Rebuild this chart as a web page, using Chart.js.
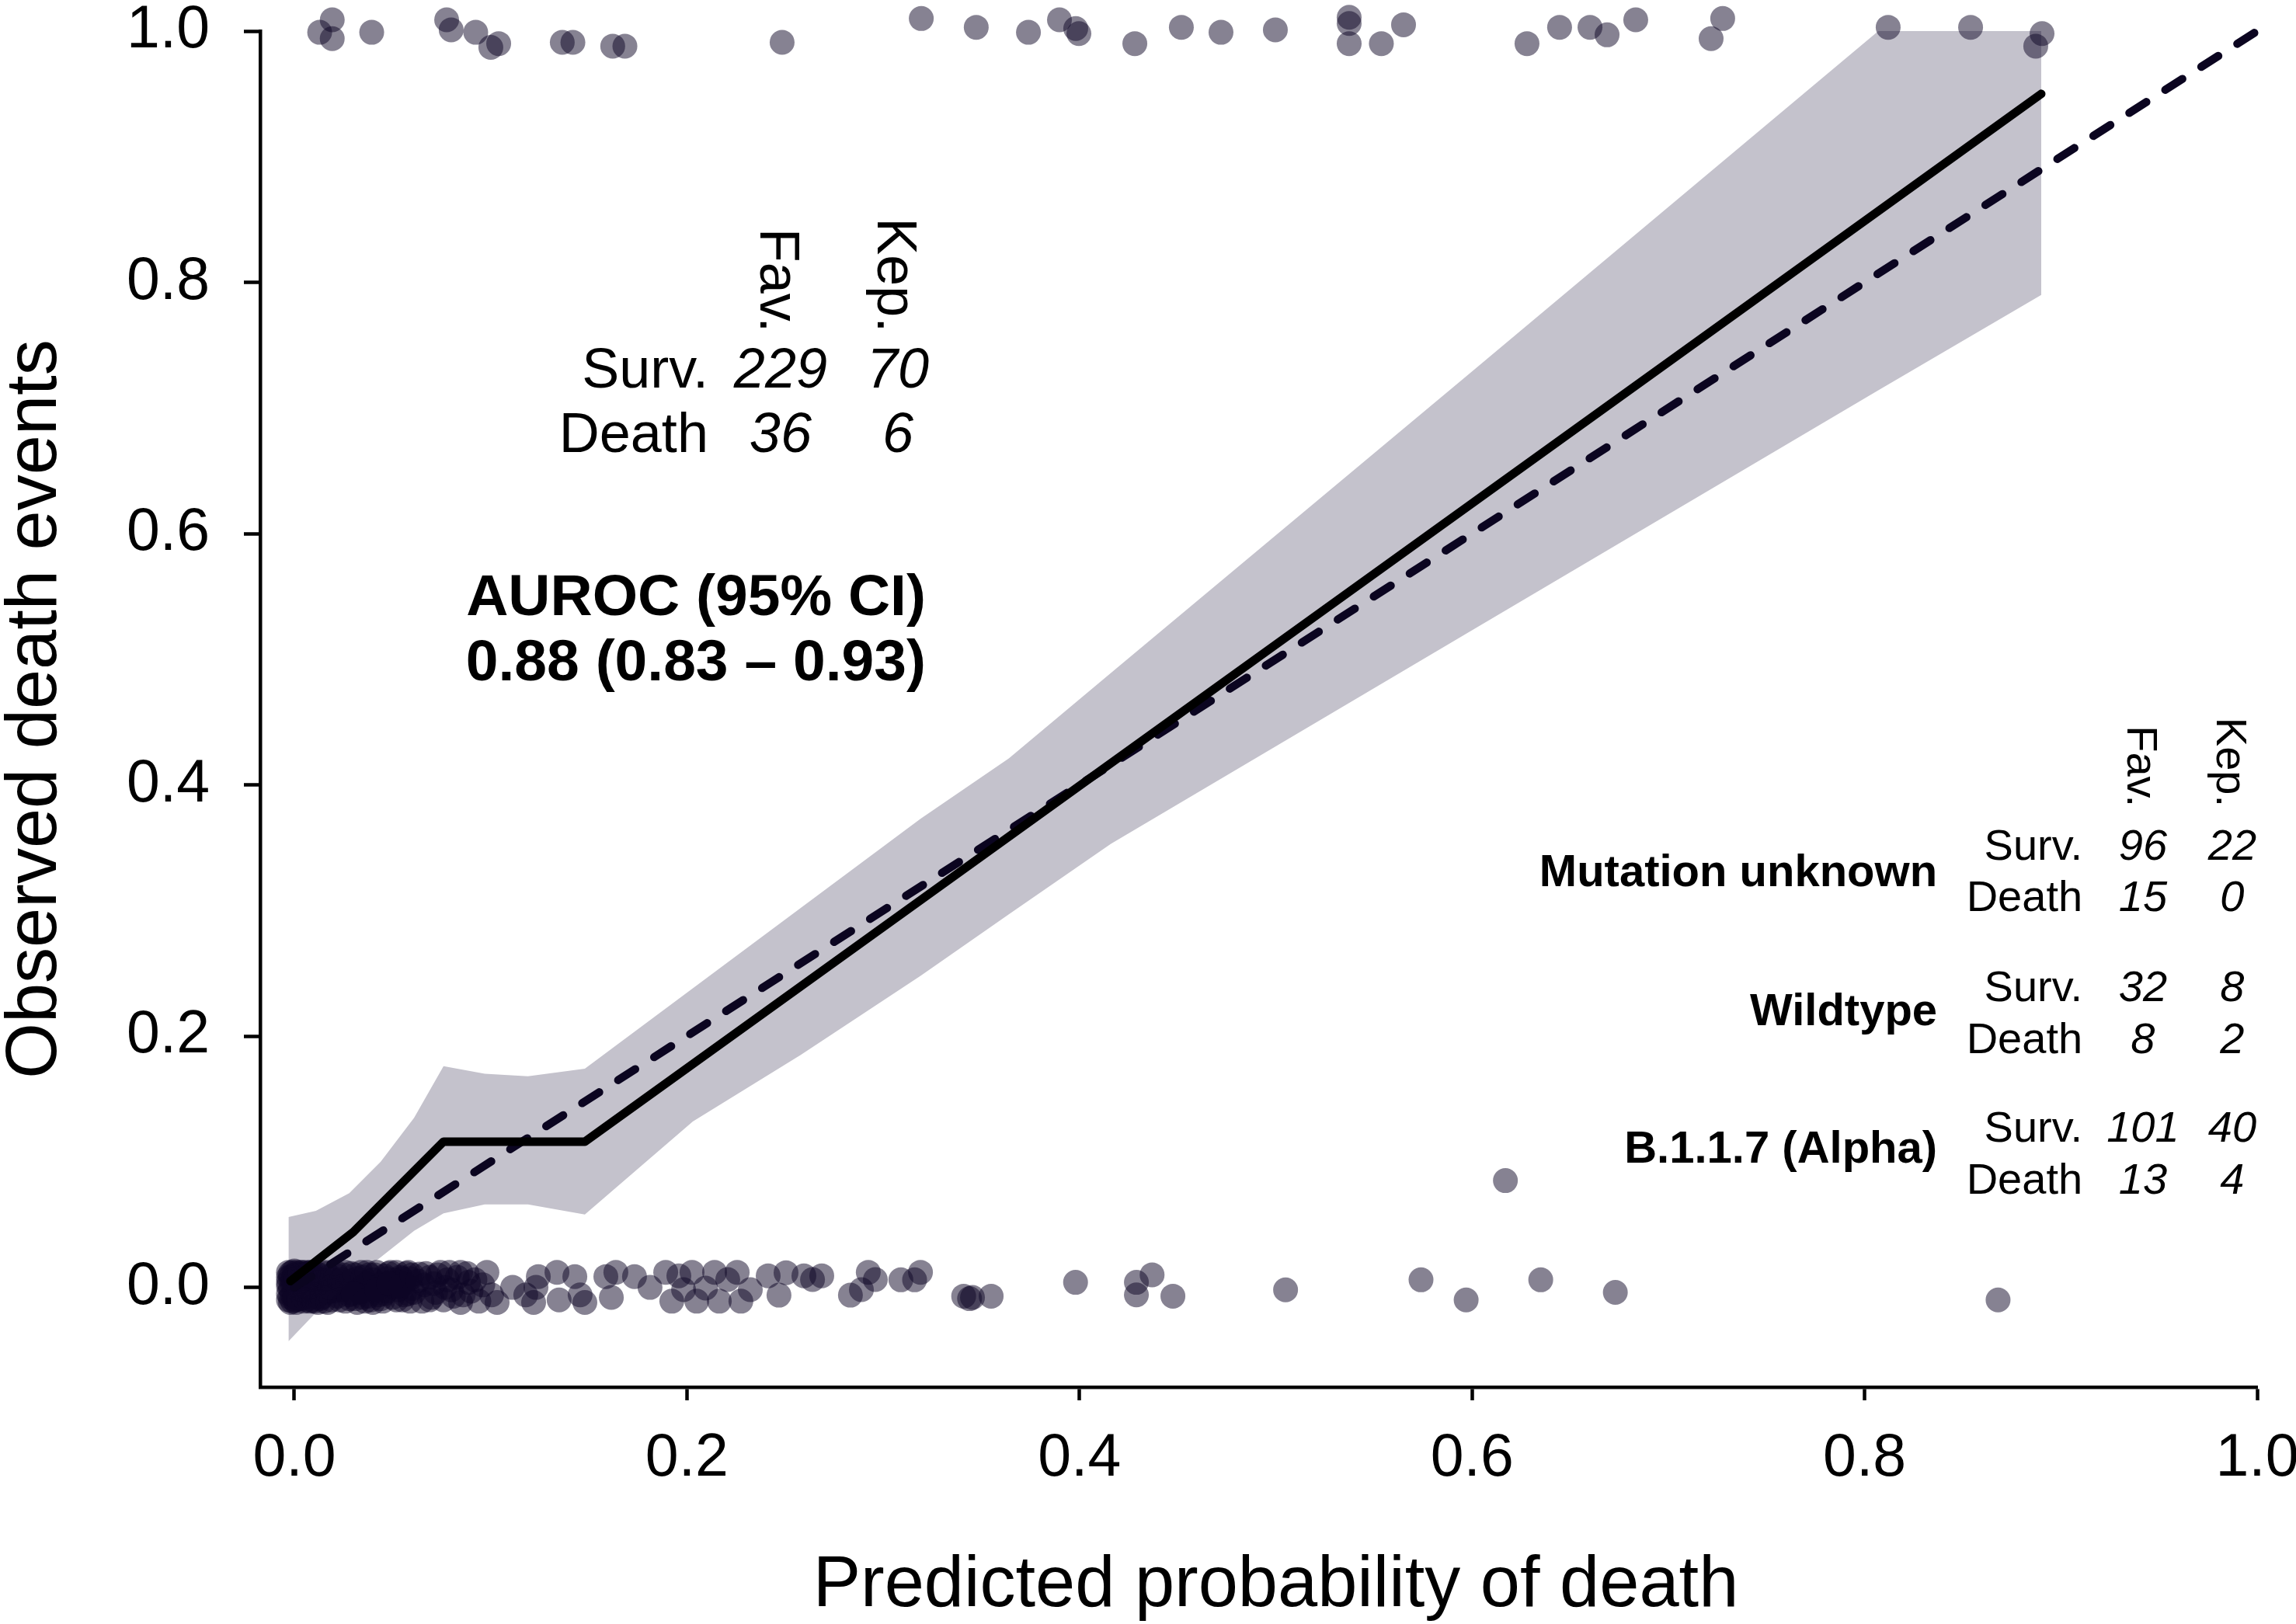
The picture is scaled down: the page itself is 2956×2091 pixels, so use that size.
<!DOCTYPE html>
<html>
<head>
<meta charset="utf-8">
<title>Calibration plot</title>
<script src="https://cdn.jsdelivr.net/npm/chart.js@4.4.1/dist/chart.umd.min.js"></script>
<style>
  html, body { margin: 0; padding: 0; background: #fff; }
  #wrap { width: 2956px; height: 2091px; position: relative; }
</style>
</head>
<body>
<div id="wrap"><canvas id="calibrationChart"></canvas></div>
<script>
const FONT = '"Liberation Sans", Arial, Helvetica, sans-serif';

const xTicks = [0, 0.2, 0.4, 0.6, 0.8, 1.0];
const yTicks = [0, 0.2, 0.4, 0.6, 0.8, 1.0];

// observed deaths (jittered around 1)
const deathX = [
  0.0129, 0.0193, 0.0193, 0.0394, 0.0776, 0.0799, 0.0924, 0.1041, 0.1001, 0.1365,
  0.1419, 0.1622, 0.1684, 0.2485, 0.3194, 0.3474, 0.3740, 0.3898, 0.3981, 0.3997,
  0.4282, 0.4519, 0.4721, 0.4998, 0.5374, 0.5374, 0.5374, 0.5538, 0.5651, 0.6280,
  0.6446, 0.6601, 0.6688, 0.6834, 0.7218, 0.7277, 0.8120, 0.8540, 0.8904, 0.8872,
];
const deathY = [
  0.999, 1.009, 0.994, 0.999, 1.009, 1.001, 0.999, 0.990, 0.987, 0.991,
  0.991, 0.988, 0.988, 0.991, 1.010, 1.003, 0.999, 1.009, 1.002, 0.998,
  0.990, 1.003, 0.999, 1.001, 1.011, 1.006, 0.990, 0.990, 1.005, 0.990,
  1.003, 1.003, 0.997, 1.009, 0.994, 1.010, 1.003, 1.003, 0.998, 0.988,
];

// observed survivors (jittered around 0)
const survX = [
  // dense block near zero
  -0.003, -0.003, -0.003, -0.003, -0.002, -0.002, -0.002, -0.001, -0.001, -0.001,
  0.000, 0.000, 0.000, 0.000, 0.001, 0.001, 0.001, 0.002, 0.002, 0.002,
  0.003, 0.003, 0.003, 0.004, 0.004, 0.004, 0.005, 0.005, 0.005, 0.006,
  0.006, 0.007, 0.007, 0.008, 0.008, 0.009, 0.009, 0.010, 0.010, 0.011,
  0.011, 0.012, 0.013, 0.013, 0.014, 0.015, 0.015, 0.016,
  -0.003, -0.002, -0.001, 0.000, 0.001, 0.002, 0.003, 0.004, 0.005, 0.006,
  0.007, 0.008, 0.009, 0.010, 0.011, 0.012, -0.003, -0.002, -0.001, 0.000,
  0.001, 0.002, 0.003, 0.004, 0.005, 0.006, 0.007, 0.008, 0.009, 0.010,
  // 0.013 - 0.060
  0.017, 0.018, 0.019, 0.020, 0.021, 0.022, 0.023, 0.024, 0.025, 0.026,
  0.027, 0.028, 0.029, 0.030, 0.031, 0.032, 0.033, 0.034, 0.035, 0.036,
  0.037, 0.038, 0.039, 0.040, 0.041, 0.042, 0.043, 0.044, 0.045, 0.046,
  0.047, 0.048, 0.049, 0.050, 0.051, 0.052, 0.053, 0.054, 0.055, 0.056,
  0.057, 0.058, 0.059, 0.060,
  0.013, 0.014, 0.016, 0.017, 0.019, 0.020, 0.022, 0.023, 0.025, 0.026,
  0.028, 0.029, 0.031, 0.032, 0.034, 0.035, 0.037, 0.038, 0.040, 0.041,
  0.043, 0.044, 0.046, 0.047, 0.049, 0.050, 0.052, 0.053, 0.055, 0.056,
  0.058, 0.059, 0.018, 0.024, 0.030, 0.036, 0.042, 0.048, 0.054, 0.060,
  // 0.06 - 0.095
  0.0637, 0.0689, 0.0744, 0.0768, 0.0847, 0.0887, 0.0847, 0.066, 0.069, 0.072,
  0.078, 0.081, 0.090,
  0.061, 0.063, 0.065, 0.067, 0.070, 0.071, 0.073, 0.076, 0.079, 0.080,
  0.083, 0.086, 0.088, 0.092, 0.094, 0.096,
  // 0.095 - 0.19
  0.0981, 0.1005, 0.1033, 0.1112, 0.1179, 0.1231, 0.1243, 0.1219, 0.1338, 0.1349,
  0.1429, 0.1456, 0.1480, 0.1587, 0.1615, 0.1638, 0.1733, 0.1812, 0.1892,
  // 0.19 - 0.30
  0.1923, 0.1959, 0.1983, 0.2026, 0.2050, 0.2095, 0.2141, 0.2165, 0.2208, 0.2256,
  0.2275, 0.2323, 0.2414, 0.2469, 0.2505, 0.2596, 0.2640, 0.2687, 0.2833, 0.2889,
  0.2924, 0.2960,
  // sparse tail
  0.309, 0.316, 0.319, 0.341, 0.344, 0.3455, 0.355, 0.398, 0.429, 0.429,
  0.437, 0.4476, 0.505, 0.574, 0.597, 0.635, 0.673, 0.868, 0.617,
];
const survY = [
  0.012, 0.004, -0.005, -0.010, 0.008, -0.001, -0.008, 0.012, 0.002, -0.011,
  0.010, 0.005, -0.002, -0.007, 0.012, 0.000, -0.010, 0.007, -0.004, 0.011,
  -0.009, 0.003, -0.001, 0.009, -0.006, 0.012, 0.001, -0.011, 0.006, -0.003,
  0.010, -0.008, 0.004, 0.012, -0.005, 0.000, -0.010, 0.008, -0.002, 0.011,
  -0.007, 0.003, -0.009, 0.010, -0.001, 0.006, -0.011, 0.012,
  0.001, 0.011, -0.006, 0.013, -0.012, 0.005, 0.010, -0.002, -0.008, 0.012,
  0.000, -0.011, 0.007, -0.006, 0.004, -0.012, 0.008, -0.012, 0.006, -0.010,
  0.007, -0.009, 0.012, 0.002, 0.010, -0.010, 0.011, 0.001, 0.012, -0.011,

  -0.004, 0.009, -0.010, 0.002, 0.012, -0.007, 0.005, -0.002, 0.010, -0.011,
  0.003, -0.006, 0.011, 0.000, -0.009, 0.007, -0.003, 0.012, -0.008, 0.004,
  -0.001, 0.010, -0.010, 0.006, 0.000, 0.012, -0.006, 0.003, -0.011, 0.009,
  -0.003, 0.011, 0.001, -0.008, 0.006, 0.012, -0.002, 0.008, -0.010, 0.003,
  0.011, -0.005, 0.007, -0.001,
  0.004, -0.008, 0.011, -0.012, 0.006, -0.003, 0.009, -0.010, 0.001, 0.012,
  -0.009, 0.005, 0.010, -0.012, -0.004, 0.008, 0.012, -0.007, -0.012, 0.010,
  0.001, -0.009, -0.005, 0.007, 0.012, 0.000, -0.010, 0.004, 0.007, -0.006,
  0.012, -0.011, 0.000, 0.006, -0.005, -0.011, -0.002, 0.003, 0.001, 0.010,

  0.0105, -0.0099, 0.012, 0.000, 0.012, 0.004, -0.012, 0.002, 0.008, -0.004,
  0.006, -0.007, -0.003,
  -0.004, 0.005, -0.011, 0.011, -0.008, 0.003, 0.010, -0.010, 0.012, -0.002,
  0.008, -0.006, 0.011, 0.006, -0.011, 0.002,

  0.012, -0.006, -0.012, 0.000, -0.006, 0.000, 0.0086, -0.012, 0.012, -0.010,
  0.0086, -0.006, -0.012, 0.0086, -0.008, 0.012, 0.0086, 0.000, 0.012,

  -0.011, 0.0092, -0.0018, 0.012, -0.011, -0.0006, 0.012, -0.011, 0.0062, 0.012,
  -0.011, -0.0018, 0.0092, -0.0062, 0.0117, 0.0092, 0.0062, 0.0092, -0.0062, -0.0018,
  0.012, 0.0062,

  0.006, 0.006, 0.012, -0.007, -0.009, -0.008, -0.007, 0.004, 0.004, -0.006,
  0.010, -0.007, -0.002, 0.006, -0.010, 0.006, -0.004, -0.010, 0.085,
];

// calibration curve and ideal diagonal
const calX = [-0.002, 0.030, 0.076, 0.148, 0.890];
const calY = [0.005, 0.044, 0.116, 0.116, 0.950];
const idealX = [0, 1];
const idealY = [0, 1];

// 95% confidence band
const bandX =     [-0.003, 0.011, 0.028, 0.044, 0.061, 0.076, 0.097, 0.119, 0.148, 0.203, 0.258, 0.319, 0.364, 0.416, 0.600, 0.807, 0.890];
const bandUpper = [0.056, 0.061, 0.075, 0.100, 0.135, 0.176, 0.170, 0.168, 0.174, 0.238, 0.302, 0.373, 0.421, 0.489, 0.729, 1.000, 1.000];
const bandLower = [-0.043, -0.020, 0.005, 0.024, 0.045, 0.059, 0.066, 0.066, 0.058, 0.132, 0.185, 0.248, 0.297, 0.353, 0.523, 0.714, 0.790];

// count tables
const drugCols = ['Fav.', 'Kep.'];
const rowLabels = ['Surv.', 'Death'];
const overallSurv = [229, 70];
const overallDeath = [36, 6];
const aurocLines = ['AUROC (95% CI)', '0.88 (0.83 \u2013 0.93)'];
const groupNames = ['Mutation unknown', 'Wildtype', 'B.1.1.7 (Alpha)'];
const groupSurv = [[96, 22], [32, 8], [101, 40]];
const groupDeath = [[15, 0], [8, 2], [13, 4]];

const toPoints = (xs, ys) => xs.map((v, i) => ({ x: v, y: ys[i] }));

const pointColor = 'rgba(14, 6, 38, 0.5)';
const bandColor = 'rgb(196, 194, 204)';

function drawText(ctx, text, x, y, size, opts = {}) {
  ctx.save();
  ctx.font = `${opts.style || 'normal'} ${opts.weight || 'normal'} ${size}px ${FONT}`;
  ctx.fillStyle = '#000';
  ctx.textAlign = opts.align || 'left';
  ctx.textBaseline = 'alphabetic';
  ctx.translate(x, y);
  if (opts.rotate) ctx.rotate(opts.rotate);
  ctx.fillText(text, 0, 0);
  ctx.restore();
}

const textPlugin = {
  id: 'calibrationText',
  afterDraw(chart) {
    const { ctx, chartArea, scales: { x, y } } = chart;
    const px = (v) => x.getPixelForValue(v);
    const py = (v) => y.getPixelForValue(v);

    // overall table
    const big = 72;
    const bigCols = [0.2477, 0.3075];
    drugCols.forEach((label, i) => {
      drawText(ctx, label, px(bigCols[i]) - big * 0.358, py(0.7599), big, { align: 'right', rotate: Math.PI / 2 });
    });
    const bigRows = [0.7161, 0.6650];
    [overallSurv, overallDeath].forEach((counts, r) => {
      drawText(ctx, rowLabels[r], px(0.2109), py(bigRows[r]), big, { align: 'right' });
      counts.forEach((n, i) => {
        drawText(ctx, String(n), px(bigCols[i]), py(bigRows[r]), big, { align: 'center', style: 'italic' });
      });
    });

    // AUROC
    const aurocRows = [0.5351, 0.4834];
    aurocLines.forEach((line, i) => {
      drawText(ctx, line, px(0.3217), py(aurocRows[i]), 75, { align: 'right', weight: 'bold' });
    });

    // per-variant table
    const small = 56;
    const smallCols = [0.9418, 0.9873];
    drugCols.forEach((label, i) => {
      drawText(ctx, label, px(smallCols[i]) - small * 0.358, py(0.3824), small, { align: 'right', rotate: Math.PI / 2 });
    });
    const survRows = [0.3405, 0.2278, 0.1158];
    const deathRows = [0.2993, 0.1866, 0.0745];
    const nameRows = [0.3196, 0.2087, 0.0991];
    groupNames.forEach((name, g) => {
      drawText(ctx, name, px(0.8370), py(nameRows[g]), 58, { align: 'right', weight: 'bold' });
      [[groupSurv[g], survRows[g]], [groupDeath[g], deathRows[g]]].forEach(([counts, row], r) => {
        drawText(ctx, rowLabels[r], px(0.9110), py(row), small, { align: 'right' });
        counts.forEach((n, i) => {
          drawText(ctx, String(n), px(smallCols[i]), py(row), small, { align: 'center', style: 'italic' });
        });
      });
    });

    // axis titles
    drawText(ctx, 'Predicted probability of death', px(0.5), chartArea.bottom + 282, 92, { align: 'center' });
    drawText(ctx, 'Observed death events', 72, (chartArea.top + chartArea.bottom) / 2, 92, { align: 'center', rotate: -Math.PI / 2 });
  },
};

const axisCommon = {
  type: 'linear',
  grid: {
    drawOnChartArea: false,
    drawTicks: true,
    tickWidth: 4.5,
    tickColor: '#000',
    color: '#000',
  },
  border: { display: true, color: '#000', width: 4.5 },
};

document.addEventListener('DOMContentLoaded', () => {
  const ctx = document.getElementById('calibrationChart');

  new Chart(ctx, {
    type: 'scatter',
    data: {
      datasets: [
        {
          label: 'Calibration curve',
          data: toPoints(calX, calY),
          showLine: true,
          borderColor: '#000',
          borderWidth: 11,
          borderCapStyle: 'round',
          borderJoinStyle: 'round',
          pointRadius: 0,
          clip: false,
        },
        {
          label: 'Ideal',
          data: toPoints(idealX, idealY),
          showLine: true,
          borderColor: '#0b0520',
          borderWidth: 10.5,
          borderDash: [26, 29],
          borderCapStyle: 'round',
          pointRadius: 0,
          clip: false,
        },
        {
          label: 'Death',
          data: toPoints(deathX, deathY),
          pointRadius: 16,
          // larger hover radius widens the in-area test so jittered points above 1.0 still draw
          pointHoverRadius: 40,
          pointBackgroundColor: pointColor,
          pointBorderWidth: 0,
          clip: false,
        },
        {
          label: 'Survival',
          data: toPoints(survX, survY),
          pointRadius: 16,
          pointHoverRadius: 40,
          pointBackgroundColor: pointColor,
          pointBorderWidth: 0,
          clip: false,
        },
        {
          label: 'CI upper',
          data: toPoints(bandX, bandUpper),
          showLine: true,
          borderWidth: 0,
          borderColor: 'transparent',
          backgroundColor: bandColor,
          pointRadius: 0,
          fill: '+1',
        },
        {
          label: 'CI lower',
          data: toPoints(bandX, bandLower),
          showLine: true,
          borderWidth: 0,
          borderColor: 'transparent',
          pointRadius: 0,
          fill: false,
        },
      ],
    },
    options: {
      responsive: true,
      maintainAspectRatio: false,
      devicePixelRatio: 1,
      animation: false,
      events: [],
      layout: { padding: { top: 33, right: 50, left: 0, bottom: 0 } },
      scales: {
        x: {
          ...axisCommon,
          min: -0.0174,
          max: 1.0,
          grid: { ...axisCommon.grid, tickLength: 17 },
          afterBuildTicks: (scale) => {
            scale.ticks = xTicks.map((value) => ({ value }));
          },
          afterFit: (scale) => {
            scale.height = 305;
            scale.paddingLeft = 0;
            scale.paddingRight = 0;
          },
          ticks: {
            autoSkip: false,
            maxRotation: 0,
            padding: 30,
            color: '#000',
            font: { family: FONT, size: 77 },
            callback: (value) => Number(value).toFixed(1),
          },
        },
        y: {
          ...axisCommon,
          min: -0.0794,
          max: 1.0,
          grid: { ...axisCommon.grid, tickLength: 21 },
          afterBuildTicks: (scale) => {
            scale.ticks = yTicks.map((value) => ({ value }));
          },
          afterFit: (scale) => {
            scale.width = 335;
            scale.paddingTop = 0;
            scale.paddingBottom = 0;
          },
          ticks: {
            autoSkip: false,
            padding: 44,
            color: '#000',
            font: { family: FONT, size: 77 },
            callback: (value) => Number(value).toFixed(1),
          },
        },
      },
      plugins: {
        legend: { display: false },
        tooltip: { enabled: false },
      },
    },
    plugins: [textPlugin],
  });
});
</script>
</body>
</html>
